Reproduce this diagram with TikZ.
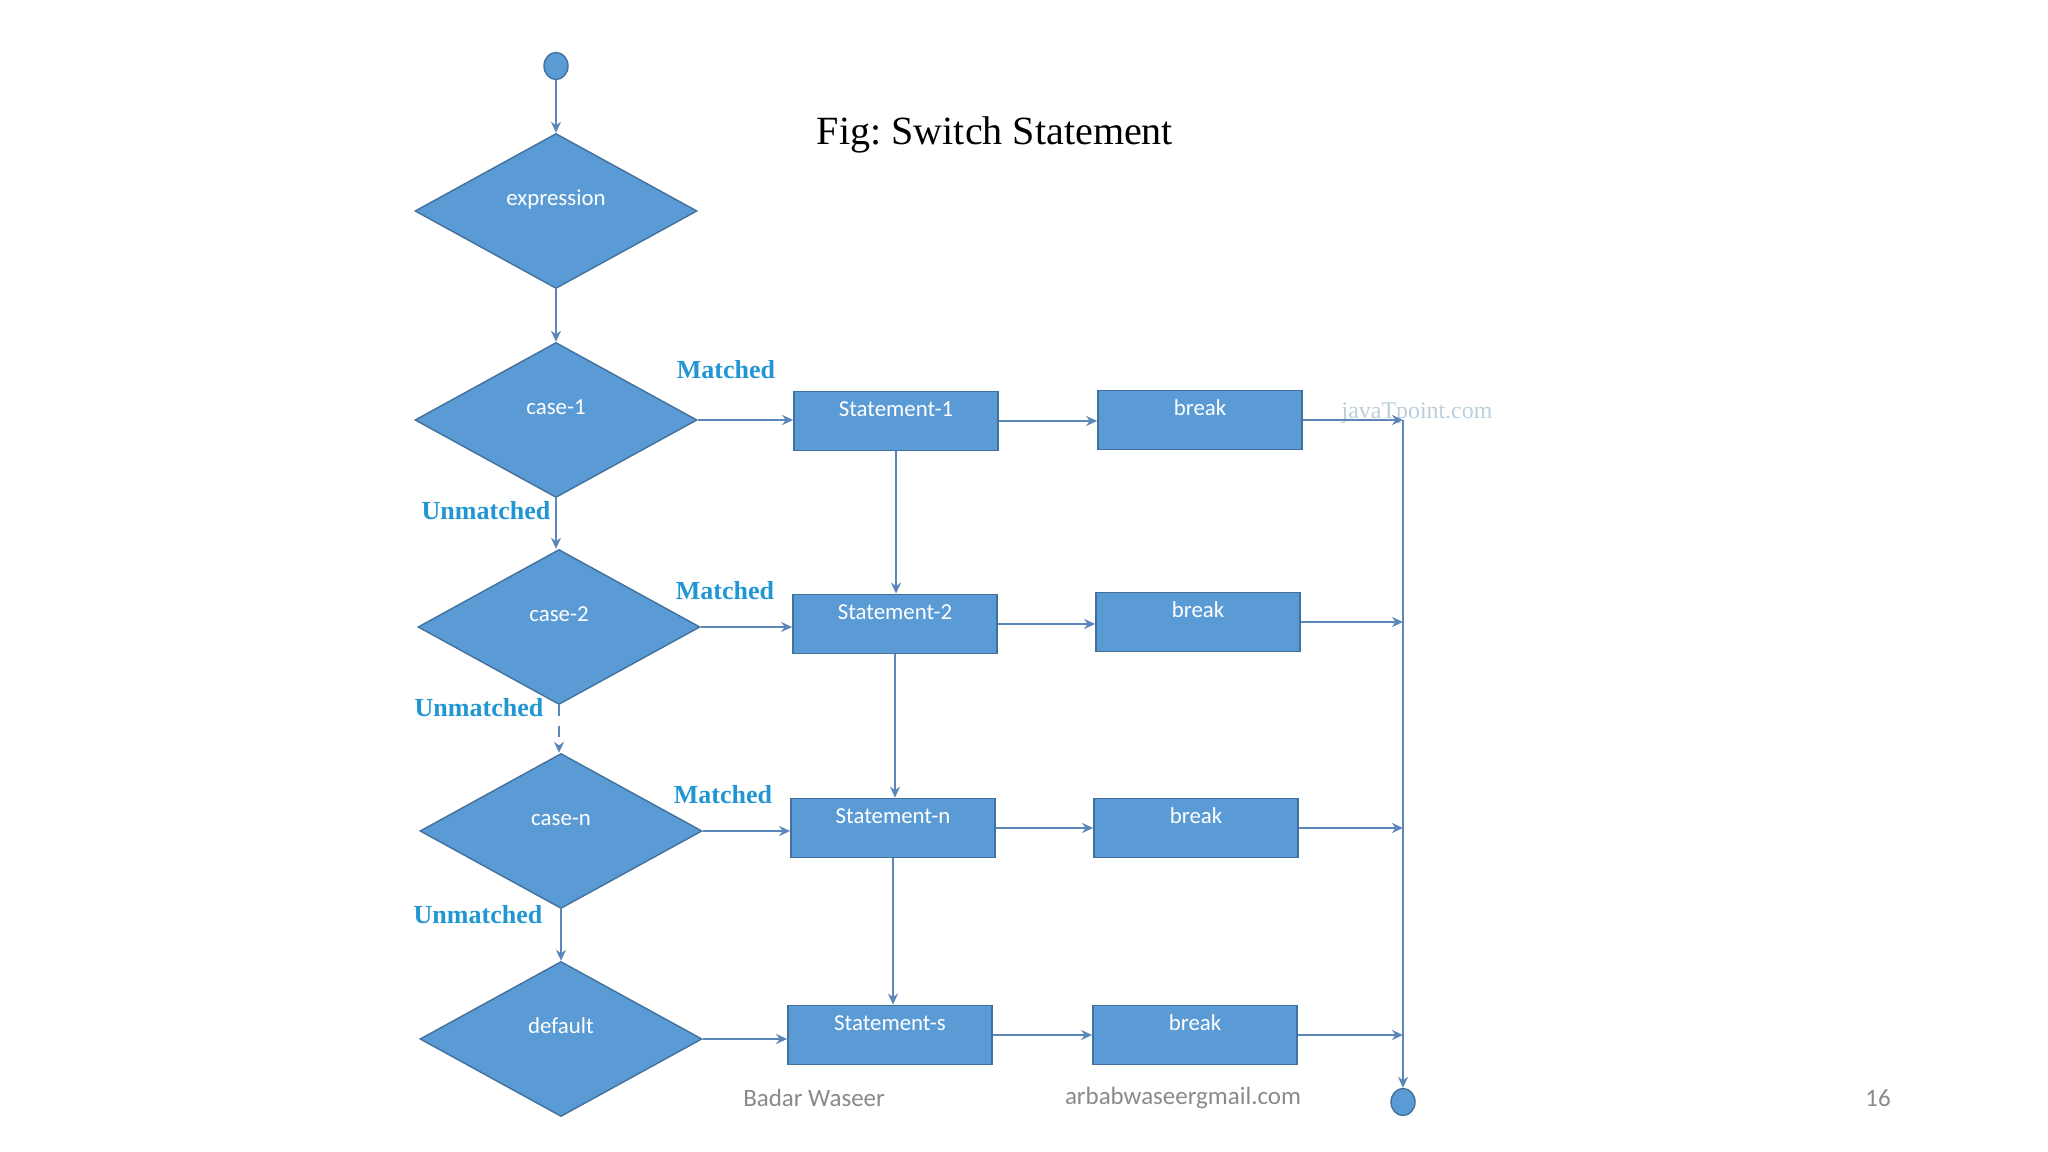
\documentclass[tikz,border=0pt]{standalone}
\usepackage{fontspec}
\usepackage{xcolor}
\usepackage{tikz}
\usetikzlibrary{arrows.meta, shapes.geometric}
\setmainfont{Liberation Serif}
\newfontfamily\calib{Carlito}
\definecolor{boxblue}{HTML}{5B9BD5}
\definecolor{boxedge}{HTML}{41719C}
\definecolor{linkblue}{HTML}{5A86BA}
\definecolor{lblblue}{HTML}{2196D3}
\definecolor{markgray}{HTML}{BACFDB}
\definecolor{footgray}{HTML}{8A8A8A}

\begin{document}
\begin{tikzpicture}[x=0.1mm, y=-0.1mm, >={Stealth[length=1.1mm, width=1mm]},
    decision/.style={diamond, fill=boxblue, draw=boxedge, line width=0.4pt, inner sep=0pt,
        minimum width=2.82cm, minimum height=1.55cm, text=white,
        font=\calib\fontsize{6.5}{8}\selectfont, text height=1.6mm, text depth=2.6mm},
    stmt/.style={rectangle, fill=boxblue, draw=boxedge, line width=0.5pt, inner sep=0pt,
        minimum width=2.04cm, minimum height=0.59cm, text=white,
        font=\calib\fontsize{6.5}{8}\selectfont, text height=1.6mm, text depth=2.4mm},
    dot/.style={ellipse, fill=boxblue, draw=boxedge, line width=0.4pt,
        minimum width=2.4mm, minimum height=2.7mm, inner sep=0pt},
    link/.style={->, draw=linkblue, line width=0.55pt},
    lbl/.style={text=lblblue, font=\bfseries\fontsize{7.4}{9}\selectfont},
    foot/.style={text=footgray, font=\calib\fontsize{7.1}{9}\selectfont}]
    \fill [white] (0, 0) rectangle (2048, 1152);
    \useasboundingbox (0, 0) rectangle (2048, 1152);
    \node [font=\fontsize{11.4}{14}\selectfont] (title) at (995, 135) {Fig:\ Switch Statement};
    % decisions
    \node [dot] (start) at (556, 66) {};
    \node [decision] (expr) at (556, 211) {expression};
    \node [decision] (c1) at (556, 420) {case-1};
    \node [decision] (c2) at (559, 627) {case-2};
    \node [decision] (cn) at (561, 831) {case-n};
    \node [decision] (def) at (561, 1039) {default};
    % statements and breaks
    \node [stmt] (s1) at (896, 421) {Statement-1};
    \node [stmt] (b1) at (1200, 420) {break};
    \node [stmt] (s2) at (895, 624) {Statement-2};
    \node [stmt] (b2) at (1198, 622) {break};
    \node [stmt] (sn) at (893, 828) {Statement-n};
    \node [stmt] (bn) at (1196, 828) {break};
    \node [stmt] (ss) at (890, 1035) {Statement-s};
    \node [stmt] (bs) at (1195, 1035) {break};
    \node [dot] (stop) at (1403, 1102) {};
    \coordinate (join) at (b1.east -| stop);
    % labels
    \node [lbl] (m1) at (726, 370) {Matched};
    \node [lbl] (m2) at (725, 591) {Matched};
    \node [lbl] (m3) at (723, 795) {Matched};
    \node [lbl] (u1) at (486, 511) {Unmatched};
    \node [lbl] (u2) at (479, 708) {Unmatched};
    \node [lbl] (u3) at (478, 915) {Unmatched};
    \node [text=markgray, font=\fontsize{6.8}{8}\selectfont] (mark) at (1417, 413) {javaTpoint.com};
    % links
    \draw [link] (start) -- (expr.north);
    \draw [link] (expr.south) -- (expr.south |- c1.north);
    \draw [link] (c1.south) -- (c1.south |- c2.north);
    \draw [link, dashed] (c2.south) -- (c2.south |- cn.north);
    \draw [link] (cn.south) -- (cn.south |- def.north);
    \draw [link] (c1.east) -- (c1.east -| s1.west);
    \draw [link] (c2.east) -- (c2.east -| s2.west);
    \draw [link] (cn.east) -- (cn.east -| sn.west);
    \draw [link] (def.east) -- (def.east -| ss.west);
    \draw [link] (s1.south) -- (s1.south |- s2.north);
    \draw [link] (s2.south) -- (s2.south |- sn.north);
    \draw [link] (sn.south) -- (sn.south |- ss.north);
    \draw [link] (s1.east) -- (s1.east -| b1.west);
    \draw [link] (s2.east) -- (s2.east -| b2.west);
    \draw [link] (sn.east) -- (sn.east -| bn.west);
    \draw [link] (ss.east) -- (ss.east -| bs.west);
    \draw [link] (b1.east) -- (join);
    \draw [link] (join) -- (stop);
    \draw [link] (b2.east) -- (b2.east -| stop);
    \draw [link] (bn.east) -- (bn.east -| stop);
    \draw [link] (bs.east) -- (bs.east -| stop);
    % footer
    \node [foot] (author) at (814, 1098) {Badar Waseer};
    \node [foot] (mail) at (1183, 1098) {arbabwaseergmail.com};
    \node [foot] (page) at (1878, 1098) {16};
\end{tikzpicture}
\end{document}
